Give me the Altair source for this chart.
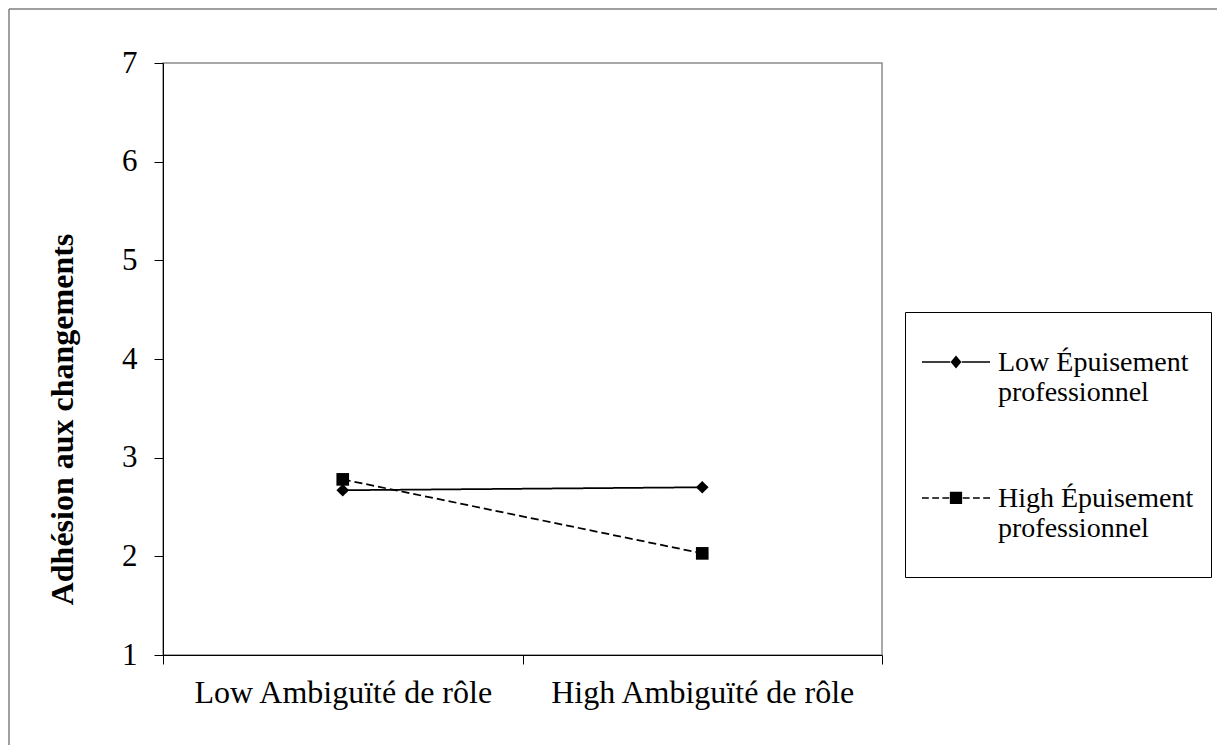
import altair as alt
import pandas as pd

# ---- data ----
categories = ["Low Ambiguïté de rôle", "High Ambiguïté de rôle"]
series = ["Low Épuisement\nprofessionnel", "High Épuisement\nprofessionnel"]
low_epuisement = [2.67, 2.70]
high_epuisement = [2.78, 2.03]
y_ticks = [1, 2, 3, 4, 5, 6, 7]

rows = []
for s, vals in zip(series, [low_epuisement, high_epuisement]):
    for c, v in zip(categories, vals):
        rows.append({"ambiguite": c, "serie": s, "adhesion": v})
df = pd.DataFrame(rows)

FONT = "Liberation Serif"


# legend glyphs: line + marker drawn as filled custom symbol paths
def seg(x1, x2, yc=0.0, h=0.024):
    return f"M{x1},{yc - h:.3f}H{x2}V{yc + h:.3f}H{x1}Z"


d = -0.03
path_low = (seg(-1, -0.17, d) + seg(0.17, 1, d)
            + f"M0,{d - 0.19:.3f}L0.16,{d}L0,{d + 0.19:.3f}L-0.16,{d}Z")
path_high = (seg(-1, -0.8, d) + seg(-0.7, -0.5, d) + seg(-0.4, -0.2, d)
             + seg(0.2, 0.4, d) + seg(0.5, 0.7, d) + seg(0.8, 1, d)
             + f"M-0.18,{d - 0.18:.3f}H0.18V{d + 0.18:.3f}H-0.18Z")

x_enc = alt.X(
    "ambiguite:N", sort=categories,
    scale=alt.Scale(type="band", paddingInner=0, paddingOuter=0),
    axis=alt.Axis(title=None, tickBand="extent", labelAngle=0, labelFont=FONT,
                  labelFontSize=32, labelColor="black", tickSize=9, tickColor="black",
                  domainColor="black", labelPadding=13, labelBaseline="top",
                  labelLimit=0, grid=False),
)
y_enc = alt.Y(
    "adhesion:Q",
    scale=alt.Scale(domain=[1, 7], nice=False, zero=False),
    axis=alt.Axis(values=y_ticks, title="Adhésion aux changements", titleFont=FONT,
                  titleFontSize=32, titleFontWeight="bold", titleColor="black",
                  titleAngle=270, titleX=-91, titleY=356, titleAlign="center",
                  titleBaseline="alphabetic", labelFont=FONT, labelFontSize=31,
                  labelColor="black", tickSize=9, labelPadding=17, grid=False,
                  domainColor="black", tickColor="black"),
)

lines = alt.Chart(df).mark_line(color="black", strokeWidth=1.75).encode(
    x=x_enc, y=y_enc,
    strokeDash=alt.StrokeDash("serie:N", scale=alt.Scale(domain=series, range=[[1, 0], [8, 4]]),
                              legend=None),
    detail="serie:N",
)

points = alt.Chart(df).mark_point(filled=True, opacity=1, color="black").encode(
    x=x_enc, y=y_enc,
    shape=alt.Shape("serie:N", scale=alt.Scale(domain=series, range=["diamond", "square"]),
                    legend=None),
    size=alt.value(160),
)

legend_layer = alt.Chart(df).transform_filter("false").mark_point(
    filled=True, opacity=1, color="black"
).encode(
    shape=alt.Shape(
        "serie:N",
        scale=alt.Scale(domain=series, range=[path_low, path_high]),
        legend=alt.Legend(
            title=" ", titleOrient="bottom", titleFontSize=2, titlePadding=15,
            orient="none", legendX=742, legendY=249, padding=17,
            strokeColor="black", fillColor="white", symbolSize=4624,
            symbolFillColor="black", symbolStrokeWidth=0,
            labelFont=FONT, labelFontSize=28, labelColor="black",
            labelExpr="split(datum.label, '\\n')", labelBaseline="middle",
            labelOffset=8, rowPadding=58, labelLimit=0,
        ),
    )
)

frame_df = pd.DataFrame({"k": [0]})
frame_top = alt.Chart(frame_df).mark_rule(color="#7f7f7f", strokeWidth=1.5).encode(
    x=alt.value(-154), x2=alt.value(1060), y=alt.value(-54))
frame_left = alt.Chart(frame_df).mark_rule(color="#7f7f7f", strokeWidth=1.5).encode(
    x=alt.value(-154), y=alt.value(-54), y2=alt.value(690))

chart = alt.layer(frame_top, frame_left, lines, points, legend_layer).resolve_scale(
    shape="independent"
).properties(
    width=719, height=592,
    padding={"left": 155, "top": 55, "right": 335, "bottom": 90},
    autosize="none",
    background="white",
).configure_view(stroke="#8c8c8c", strokeWidth=1.5)

chart.save("out.html", embed_options={"renderer": "svg", "actions": False})
